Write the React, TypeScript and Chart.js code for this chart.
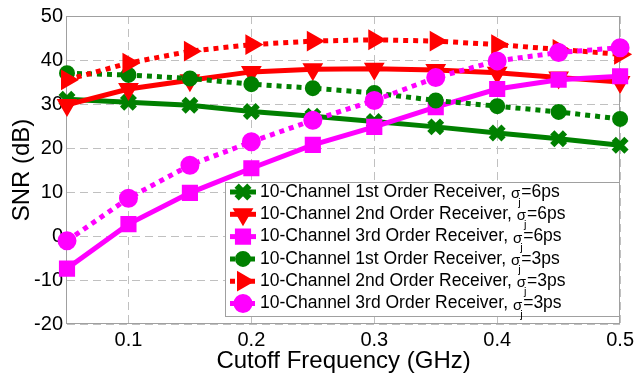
import React, { useEffect, useRef } from 'react';
import { Chart, registerables } from 'chart.js';
import { drawPoint } from 'chart.js/helpers';

Chart.register(...registerables);

const FREQ = [0.05, 0.1, 0.15, 0.2, 0.25, 0.3, 0.35, 0.4, 0.45, 0.5];
const X_TICKS = [0.1, 0.2, 0.3, 0.4, 0.5];
const Y_TICKS = [-20, -10, 0, 10, 20, 30, 40, 50];

const SNR_1ST_6PS = [31.1, 30.4, 29.7, 28.3, 27.2, 26.0, 24.8, 23.4, 22.1, 20.6];
const SNR_2ND_6PS = [29.8, 33.4, 35.4, 37.3, 37.9, 38.0, 37.7, 37.1, 36.0, 35.0];
const SNR_3RD_6PS = [-7.4, 2.7, 9.8, 15.4, 20.7, 24.8, 29.3, 33.4, 35.5, 36.3];
const SNR_1ST_3PS = [37.0, 36.6, 35.8, 34.5, 33.6, 32.5, 30.8, 29.5, 28.2, 26.6];
const SNR_2ND_3PS = [35.5, 39.3, 42.0, 43.5, 44.3, 44.6, 44.3, 43.5, 42.4, 41.3];
const SNR_3RD_3PS = [-1.1, 8.6, 16.1, 21.4, 26.3, 30.8, 36.0, 39.8, 41.7, 42.8];

const SERIES_NAMES = [
  '10-Channel 1st Order Receiver, ',
  '10-Channel 2nd Order Receiver, ',
  '10-Channel 3rd Order Receiver, ',
  '10-Channel 1st Order Receiver, ',
  '10-Channel 2nd Order Receiver, ',
  '10-Channel 3rd Order Receiver, ',
];
const JITTER = ['=6ps', '=6ps', '=6ps', '=3ps', '=3ps', '=3ps'];

const GREEN = '#008000';
const RED = '#ff0000';
const MAGENTA = '#ff00ff';
const FONT = '"Liberation Sans", Arial, sans-serif';

const boxPlugin = {
  id: 'plotBox',
  beforeDatasetsDraw(chart: any) {
    const { ctx, chartArea } = chart;
    ctx.save();
    ctx.strokeStyle = '#a0a0a0';
    ctx.lineWidth = 1;
    ctx.setLineDash([]);
    ctx.strokeRect(
      Math.round(chartArea.left) - 0.5,
      Math.round(chartArea.top) + 0.5,
      Math.round(chartArea.right - chartArea.left),
      Math.round(chartArea.bottom - chartArea.top) - 1
    );
    ctx.restore();
  },
};

const legendPlugin = {
  id: 'boxLegend',
  afterDraw(chart: any) {
    const { ctx, chartArea } = chart;
    const right = Math.round(chartArea.right);
    const bottom = Math.round(chartArea.bottom) - 7;
    const left = 225;
    const top = 182;
    ctx.save();
    ctx.fillStyle = '#ffffff';
    ctx.fillRect(left, top, right - left, bottom - top);
    ctx.strokeStyle = '#a0a0a0';
    ctx.lineWidth = 1;
    ctx.setLineDash([]);
    ctx.strokeRect(left + 0.5, top + 0.5, right - left - 1, bottom - top - 1);
    chart.data.datasets.forEach((ds: any, i: number) => {
      const cy = top + 10 + i * 22.3;
      ctx.beginPath();
      ctx.setLineDash(ds.borderDash || []);
      ctx.lineWidth = ds.borderWidth;
      ctx.strokeStyle = ds.borderColor;
      ctx.moveTo(230, cy);
      ctx.lineTo(256, cy);
      ctx.stroke();
      ctx.setLineDash([]);
      ctx.fillStyle = ds.pointBackgroundColor;
      ctx.strokeStyle = ds.pointBorderColor;
      ctx.lineWidth = ds.pointBorderWidth;
      drawPoint(
        ctx,
        {
          pointStyle: ds.pointStyle,
          rotation: ds.pointRotation || 0,
          radius: ds.pointRadius,
          borderWidth: ds.pointBorderWidth,
        } as any,
        243,
        cy
      );
      ctx.fillStyle = '#000';
      ctx.textAlign = 'left';
      ctx.textBaseline = 'middle';
      ctx.font = `17.5px ${FONT}`;
      let x = 260;
      const name = SERIES_NAMES[i];
      ctx.fillText(name, x, cy);
      x += ctx.measureText(name).width;
      ctx.font = `15px ${FONT}`;
      ctx.fillText('σ', x, cy + 2);
      x += ctx.measureText('σ').width;
      ctx.font = `11px ${FONT}`;
      ctx.fillText('j', x - 2, cy + 11);
      x += 1;
      ctx.font = `17.5px ${FONT}`;
      ctx.fillText(JITTER[i], x, cy);
    });
    ctx.restore();
  },
};

function makeDataset(
  data: number[],
  color: string,
  dashed: boolean,
  style: string,
  radius: number,
  rotation: number,
  pbw: number,
  order: number
) {
  return {
    data: FREQ.map((f, k) => ({ x: f, y: data[k] })),
    borderColor: color,
    backgroundColor: color,
    borderWidth: 5,
    borderDash: dashed ? [5, 5] : [],
    pointStyle: style,
    pointRadius: radius,
    pointRotation: rotation,
    pointBackgroundColor: color,
    pointBorderColor: color,
    pointBorderWidth: pbw,
    pointHoverRadius: radius,
    tension: 0,
    clip: false,
    order,
  };
}

export default function App() {
  const ref = useRef<HTMLCanvasElement>(null);
  useEffect(() => {
    document.body.style.margin = '0';
    const canvas = ref.current!;
    const chart = new Chart(canvas, {
      type: 'line',
      data: {
        datasets: [
          makeDataset(SNR_1ST_6PS, GREEN, false, 'crossRot', 9, 0, 6, 6),
          makeDataset(SNR_2ND_6PS, RED, false, 'triangle', 10, 180, 2, 5),
          makeDataset(SNR_3RD_6PS, MAGENTA, false, 'rect', 10, 0, 2, 4),
          makeDataset(SNR_1ST_3PS, GREEN, true, 'circle', 7, 0, 2, 3),
          makeDataset(SNR_2ND_3PS, RED, true, 'triangle', 10, 90, 2, 2),
          makeDataset(SNR_3RD_3PS, MAGENTA, true, 'circle', 8.5, 0, 2, 1),
        ] as any,
      },
      options: {
        animation: false,
        responsive: false,
        events: [],
        layout: { padding: { top: 13, right: 16, left: 0, bottom: 0 } },
        plugins: { legend: { display: false }, tooltip: { enabled: false } },
        scales: {
          x: {
            type: 'linear',
            min: 0.05,
            max: 0.5,
            afterBuildTicks: (s: any) => {
              s.ticks = X_TICKS.map((v) => ({ value: v }));
            },
            afterFit: (s: any) => {
              s.height = 56;
            },
            ticks: {
              color: '#000',
              font: { family: FONT, size: 20 },
              padding: 4,
              maxRotation: 0,
              autoSkip: false,
              callback: (v: any) => String(v),
            },
            grid: { color: '#c0c0c0', lineWidth: 1, drawTicks: false },
            border: { display: false, dash: [8, 5] },
            title: {
              display: true,
              text: 'Cutoff Frequency (GHz)',
              color: '#000',
              font: { family: FONT, size: 24 },
              padding: { top: 0, bottom: 4 },
            },
          },
          y: {
            type: 'linear',
            min: -20,
            max: 50,
            afterBuildTicks: (s: any) => {
              s.ticks = Y_TICKS.map((v) => ({ value: v }));
            },
            afterFit: (s: any) => {
              s.width = 67;
            },
            ticks: {
              color: '#000',
              font: { family: FONT, size: 20 },
              padding: 4,
              autoSkip: false,
              callback: (v: any) => String(v),
            },
            grid: { color: '#c0c0c0', lineWidth: 1, drawTicks: false },
            border: { display: false, dash: [8, 5] },
            title: {
              display: true,
              text: 'SNR (dB)',
              color: '#000',
              font: { family: FONT, size: 24 },
              padding: { top: 8, bottom: 0 },
            },
          },
        },
      } as any,
      plugins: [boxPlugin, legendPlugin],
    });
    return () => chart.destroy();
  }, []);
  return (
    <div style={{ width: 638, height: 380 }}>
      <canvas ref={ref} width={638} height={380} style={{ display: 'block' }} />
    </div>
  );
}
